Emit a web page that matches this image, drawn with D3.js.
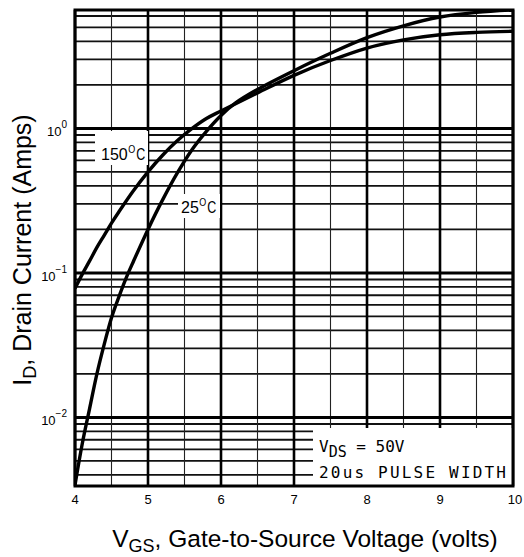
<!DOCTYPE html>
<html><head><meta charset="utf-8">
<script src="https://cdn.jsdelivr.net/npm/d3@7"></script>
<style>body{margin:0;background:#fff}svg{display:block}</style>
</head><body>
<svg id="c" width="524" height="557"></svg>
<script>
// ---- data ----
const vgs25 = [4.0,4.1,4.2,4.3,4.4,4.5,4.6,4.7,4.8,5.0,5.2,5.4,5.6,5.8,6.0,6.2,6.5,7.0,7.5,8.0,8.5,9.0,9.5,10];
const id25  = [0.0034,0.0066,0.0115,0.020,0.032,0.049,0.068,0.092,0.12,0.20,0.32,0.49,0.71,0.955,1.23,1.50,1.86,2.51,3.31,4.25,5.13,5.90,6.35,6.6];
const vgs150 = [4.0,4.1,4.2,4.3,4.4,4.5,4.6,4.8,5.0,5.2,5.4,5.6,5.8,6.0,6.5,7.0,7.5,8.0,8.5,9.0,9.5,10];
const id150  = [0.078,0.098,0.121,0.150,0.182,0.221,0.264,0.370,0.50,0.652,0.82,0.995,1.17,1.32,1.76,2.33,2.95,3.60,4.10,4.45,4.62,4.70];
const xTicks = [4,5,6,7,8,9,10];
const xMinor = [4.5,5.5,6.5,7.5,8.5,9.5];
const yDecades = [{v:1,exp:"0"},{v:0.1,exp:"\u22121"},{v:0.01,exp:"\u22122"}];
const yMinorMult = [2,3,4,5,6,7,8,9];

const svg = d3.select("#c");
const L=75,R=513,T=10,B=486;
const x = d3.scaleLinear().domain([4,10]).range([L,R]);
const y = d3.scaleLog().domain([0.00335,6.6]).range([B,T]);
const FONT = "Liberation Sans, Arial, sans-serif";

// minor horizontal grid
const minorVals=[];
[0.001,0.01,0.1,1].forEach(d=>yMinorMult.forEach(m=>{const v=d*m; if(v>y.domain()[0]&&v<y.domain()[1]) minorVals.push(v);}));
svg.append("g").selectAll("line").data(minorVals).join("line")
  .attr("x1",L).attr("x2",R).attr("y1",d=>y(d)).attr("y2",d=>y(d))
  .attr("stroke","#111").attr("stroke-width",1.8);
// minor vertical
svg.append("g").selectAll("line").data(xMinor).join("line")
  .attr("x1",d=>x(d)).attr("x2",d=>x(d)).attr("y1",T).attr("y2",B)
  .attr("stroke","#222").attr("stroke-width",1.1);
// major vertical
svg.append("g").selectAll("line").data(xTicks).join("line")
  .attr("x1",d=>x(d)).attr("x2",d=>x(d)).attr("y1",T).attr("y2",B)
  .attr("stroke","#000").attr("stroke-width",2.6);
// decade lines
svg.append("g").selectAll("line").data(yDecades).join("line")
  .attr("x1",L).attr("x2",R).attr("y1",d=>y(d.v)).attr("y2",d=>y(d.v))
  .attr("stroke","#000").attr("stroke-width",3);

// white boxes behind labels
svg.append("rect").attr("x",95).attr("y",131).attr("width",53).attr("height",34).attr("fill","#fff");
svg.append("rect").attr("x",178).attr("y",194).attr("width",42).attr("height",24).attr("fill","#fff");
svg.append("rect").attr("x",313).attr("y",428).attr("width",R-313).attr("height",B-428).attr("fill","#fff");

// curves
svg.append("clipPath").attr("id","clip").append("rect").attr("x",L).attr("y",T).attr("width",R-L).attr("height",B-T);
const line = d3.line().x(d=>x(d[0])).y(d=>y(d[1])).curve(d3.curveCatmullRom.alpha(0.5));
const g = svg.append("g").attr("clip-path","url(#clip)");
g.append("path").attr("d",line(vgs25.map((v,i)=>[v,id25[i]]))).attr("fill","none").attr("stroke","#000").attr("stroke-width",3.4);
g.append("path").attr("d",line(vgs150.map((v,i)=>[v,id150[i]]))).attr("fill","none").attr("stroke","#000").attr("stroke-width",3.4);

// frame
svg.append("rect").attr("x",L).attr("y",T).attr("width",R-L).attr("height",B-T).attr("fill","none").attr("stroke","#000").attr("stroke-width",3);

// x tick labels
svg.append("g").selectAll("text").data(xTicks).join("text")
  .attr("x",d=>x(d)+ (d===10?2:0)).attr("y",504).attr("text-anchor","middle")
  .attr("font-family",FONT).attr("font-size",13).attr("fill","#000")
  .text(d=>d);
// y tick labels
const yl = svg.append("g").selectAll("text").data(yDecades).join("text")
  .attr("x",67).attr("y",d=>y(d.v)+8).attr("text-anchor","end")
  .attr("font-family",FONT).attr("font-size",13).attr("fill","#000");
yl.append("tspan").text("10");
yl.append("tspan").attr("font-size",10).attr("dy",-8).text(d=>d.exp);

// curve labels (separate text pieces)
function tempLabel(xp, yb, num){
  const w = num.length*8.9;
  svg.append("text").attr("x",xp).attr("y",yb).attr("font-family",FONT).attr("font-size",17)
    .attr("textLength",w).attr("lengthAdjust","spacingAndGlyphs").text(num);
  svg.append("text").attr("x",xp+w+0.5).attr("y",yb-7).attr("font-family",FONT).attr("font-size",11)
    .attr("textLength",7).attr("lengthAdjust","spacingAndGlyphs").text("O");
  svg.append("text").attr("x",xp+w+8.5).attr("y",yb).attr("font-family",FONT).attr("font-size",17)
    .attr("textLength",9).attr("lengthAdjust","spacingAndGlyphs").text("C");
}
tempLabel(101,160,"150");
tempLabel(181,213,"25");

// annotation
const a1 = svg.append("text").attr("x",319).attr("y",452)
  .attr("font-family","DejaVu Sans Mono, monospace").attr("font-size",16).attr("fill","#000");
a1.append("tspan").text("V");
a1.append("tspan").attr("dy",5).attr("font-size",15).text("DS");
a1.append("tspan").attr("dy",-5).text(" = 50V");
svg.append("text").attr("x",319).attr("y",478)
  .attr("font-family","DejaVu Sans Mono, monospace").attr("font-size",16).attr("fill","#000")
  .attr("textLength",187).attr("lengthAdjust","spacing")
  .text("20us PULSE WIDTH");

// axis titles
const xt = svg.append("text").attr("x",305).attr("y",547).attr("text-anchor","middle")
  .attr("font-family",FONT).attr("font-size",24.5).attr("fill","#000");
xt.append("tspan").text("V");
xt.append("tspan").attr("dy",5).attr("font-size",18).text("GS");
xt.append("tspan").attr("dy",-5).text(", Gate-to-Source Voltage (volts)");

const yt = svg.append("text").attr("transform","translate(31,250) rotate(-90)").attr("text-anchor","middle")
  .attr("font-family",FONT).attr("font-size",25).attr("fill","#000");
yt.append("tspan").text("I");
yt.append("tspan").attr("dy",5).attr("font-size",18).text("D");
yt.append("tspan").attr("dy",-5).text(", Drain Current (Amps)");
</script>
</body></html>
